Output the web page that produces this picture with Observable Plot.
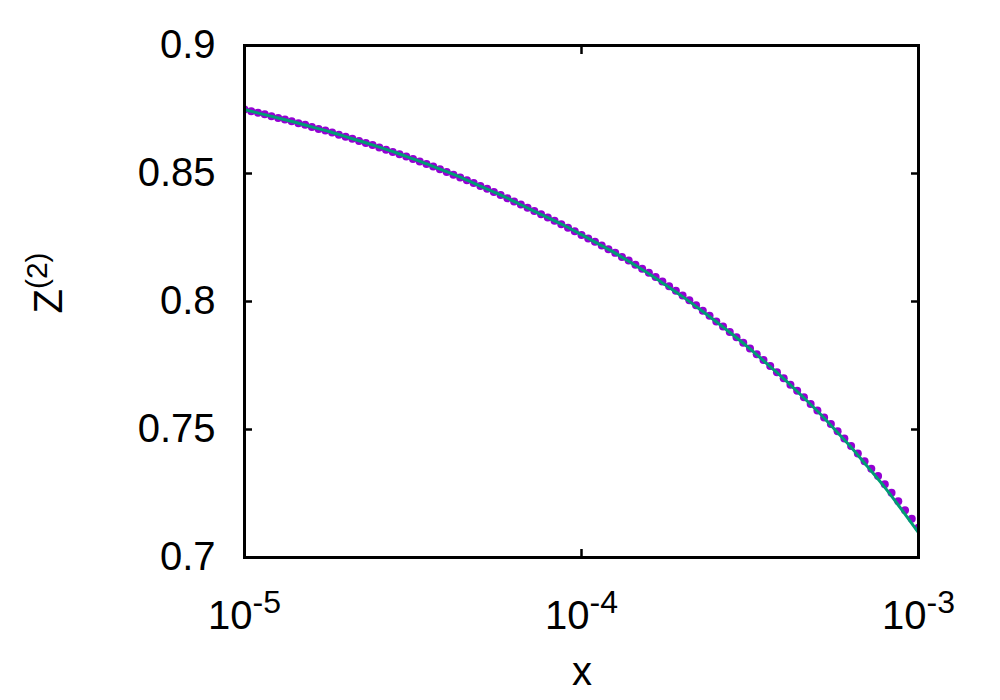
<!DOCTYPE html>
<html><head><meta charset="utf-8">
<script src="https://cdn.jsdelivr.net/npm/d3@7"></script>
<script src="https://cdn.jsdelivr.net/npm/@observablehq/plot@0.6"></script>
<style>html,body{margin:0;padding:0;background:#fff;}</style>
</head><body><div id="chart"></div>
<script>
// Data points (purple dots): sampled every 0.02 decade from x=1e-5 to 1e-3
const dotLogStart = -5, dotLogStep = 0.02;
const dotY = [
0.8750,0.8743,0.8737,0.8731,0.8724,0.8717,0.8711,0.8704,0.8696,0.8690,
0.8682,0.8674,0.8668,0.8660,0.8651,0.8644,0.8636,0.8627,0.8619,0.8611,
0.8602,0.8593,0.8584,0.8575,0.8566,0.8557,0.8547,0.8537,0.8527,0.8517,
0.8506,0.8495,0.8484,0.8474,0.8463,0.8451,0.8440,0.8428,0.8416,0.8403,
0.8391,0.8379,0.8366,0.8354,0.8341,0.8328,0.8315,0.8302,0.8288,0.8274,
0.8260,0.8246,0.8233,0.8219,0.8204,0.8190,0.8174,0.8160,0.8144,0.8128,
0.8112,0.8096,0.8078,0.8060,0.8042,0.8023,0.8005,0.7985,0.7964,0.7944,
0.7922,0.7902,0.7881,0.7860,0.7839,0.7816,0.7794,0.7771,0.7748,0.7724,
0.7700,0.7675,0.7651,0.7626,0.7600,0.7574,0.7547,0.7521,0.7493,0.7465,
0.7436,0.7406,0.7376,0.7347,0.7318,0.7286,0.7253,0.7220,0.7185,0.7151,
0.7116
];
// Fitted curve (green line): every 0.05 decade
const fitLogStart = -5, fitLogStep = 0.05;
const fitY = [
0.8750,0.8733,0.8717,0.8700,0.8682,0.8664,0.8644,0.8624,0.8603,0.8581,
0.8557,0.8533,0.8507,0.8480,0.8451,0.8422,0.8391,0.8359,0.8328,0.8296,
0.8261,0.8225,0.8189,0.8149,0.8108,0.8064,0.8019,0.7971,0.7921,0.7869,
0.7815,0.7757,0.7699,0.7636,0.7572,0.7502,0.7431,0.7353,0.7274,0.7187,
0.7097
];
const xTicks = [1e-5, 1e-4, 1e-3];
const xTickExp = ["-5", "-4", "-3"];
const yTicks = [0.7, 0.75, 0.8, 0.85, 0.9];
const yTickLabels = ["0.7", "0.75", "0.8", "0.85", "0.9"];

const dots = dotY.map((y, i) => ({x: 10 ** (dotLogStart + i * dotLogStep), y}));
const fit = fitY.map((y, i) => ({x: 10 ** (fitLogStart + i * fitLogStep), y}));

const FONT = "'Liberation Sans', Arial, Helvetica, sans-serif";
const none = () => "";

const plot = Plot.plot({
  width: 1000, height: 700,
  marginLeft: 244, marginRight: 82, marginTop: 45, marginBottom: 143,
  style: {fontFamily: FONT, fontSize: "40px", background: "white", color: "black"},
  x: {type: "log", domain: [1e-5, 1e-3]},
  y: {domain: [0.7, 0.9]},
  marks: [
    Plot.dot(dots, {x: "x", y: "y", r: 4, fill: "#9400d3", stroke: "none", clip: "frame"}),
    Plot.line(fit, {x: "x", y: "y", stroke: "#009e73", strokeWidth: 3, curve: "catmull-rom", clip: "frame"}),
    Plot.axisY(yTicks, {anchor: "left", tickSize: 0, tickPadding: 29, label: null,
      tickFormat: (d, i) => yTickLabels[i], fontSize: 40}),
    Plot.axisY(yTicks, {anchor: "left", tickSize: -8, tickFormat: none, label: null, strokeWidth: 2.5}),
    Plot.axisY(yTicks, {anchor: "right", tickSize: -8, tickFormat: none, label: null, strokeWidth: 2.5}),
    Plot.axisX(xTicks, {anchor: "bottom", tickSize: 0, tickPadding: 43, label: null,
      tickFormat: (d, i) => "10", fontSize: 40}),
    Plot.axisX(xTicks, {anchor: "bottom", tickSize: -8, tickFormat: none, label: null, strokeWidth: 2.5}),
    Plot.axisX(xTicks, {anchor: "top", tickSize: -8, tickFormat: none, label: null, strokeWidth: 2.5}),
    Plot.frame({stroke: "black", strokeWidth: 3})
  ]
});

// superscript exponents on x tick labels
let xi = 0;
d3.select(plot).selectAll('g[aria-label="x-axis tick label"] text').each(function() {
  const t = d3.select(this);
  if (t.text() !== "10") return;
  const exp = xTickExp[xi++];
  t.text(null);
  t.append("tspan").text("10");
  t.append("tspan").attr("dy", "-0.5em").attr("font-size", "32px").text(exp);
});

const svg = d3.select(plot);
// x axis title
svg.append("text")
  .attr("x", 582).attr("y", 685)
  .attr("text-anchor", "middle")
  .attr("font-family", FONT).attr("font-size", 40)
  .text("x");
// y axis title Z^(2)
const yl = svg.append("text")
  .attr("transform", "translate(62,283) rotate(-90)")
  .attr("text-anchor", "middle")
  .attr("font-family", FONT).attr("font-size", 40);
yl.append("tspan").text("Z");
yl.append("tspan").attr("dy", "-0.5em").attr("font-size", "30px").text("(2)");

document.getElementById("chart").appendChild(plot);
</script>
</body></html>
